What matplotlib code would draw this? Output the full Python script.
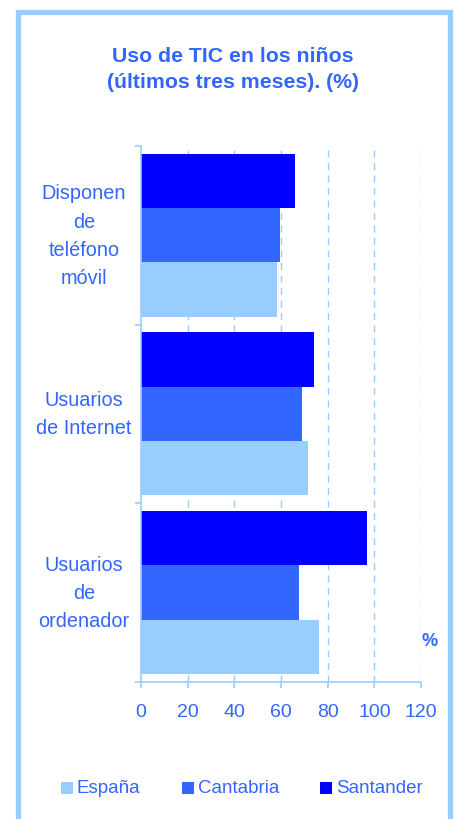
import matplotlib
matplotlib.use("Agg")
import matplotlib.pyplot as plt
from matplotlib.patches import Rectangle
from matplotlib.transforms import blended_transform_factory
import numpy as np

categories = ["Disponen\nde\nteléfono\nmóvil", "Usuarios\nde Internet", "Usuarios\nde\nordenador"]
series_names = ["España", "Cantabria", "Santander"]
espana = [58.1, 71.6, 76.3]
cantabria = [59.6, 69.0, 67.7]
santander = [66.0, 74.1, 96.9]
xticks = [0, 20, 40, 60, 80, 100, 120]

plt.rcParams['font.family'] = ['Liberation Sans', 'DejaVu Sans']
TXT = '#3366FF'
LIGHT = '#99CCFF'
colors = {'España': '#99CCFF', 'Cantabria': '#3366FF', 'Santander': '#0000FF'}

W, H = 455, 820
fig = plt.figure(figsize=(W/100, H/100), dpi=100)
fig.patch.set_facecolor('white')

# frame
fig.add_artist(Rectangle((17.5/W, -0.05), (449.5-17.5)/W, (H-12.5)/H + 0.05,
                         transform=fig.transFigure, fill=False, edgecolor=LIGHT,
                         linewidth=3.8, zorder=0))

ax = fig.add_axes([141/W, 137.3/H, 280/W, 535.7/H])
n = len(categories)
pos = np.arange(n)[::-1].astype(float)  # first category on top
bh = 0.304
vals = {'España': espana, 'Cantabria': cantabria, 'Santander': santander}
offs = {'España': -bh, 'Cantabria': 0.0, 'Santander': bh}
for s in series_names:
    ax.barh(pos + offs[s], vals[s], height=bh, color=colors[s], zorder=2, label=s)

ax.set_xlim(0, 120)
ax.set_ylim(-0.5, n - 0.5)
ax.set_xticks(xticks)
ax.set_xticklabels([str(t) for t in xticks])
ax.set_yticks(np.arange(n + 1) - 0.5)
ax.set_yticklabels([])
for x in xticks[1:]:
    ax.axvline(x, color=LIGHT, linewidth=1, linestyle=(0, (5, 4)), zorder=1)

for sp in ['top', 'right']:
    ax.spines[sp].set_visible(False)
for sp in ['left', 'bottom']:
    ax.spines[sp].set_color(LIGHT)
    ax.spines[sp].set_linewidth(1.2)
ax.tick_params(axis='x', colors=LIGHT, labelcolor=TXT, labelsize=14, length=4.5, width=1.2, pad=11)
ax.tick_params(axis='y', colors=LIGHT, length=4.5, width=1.2)

tr = blended_transform_factory(fig.transFigure, ax.transData)
for p, c in zip(pos, categories):
    ax.text(84/W, p, c, transform=tr, ha='center', va='center', multialignment='center',
            color=TXT, fontsize=14.3, linespacing=1.62)

fig.text(233/W, 1 - 56/H, "Uso de TIC en los niños", ha='center', va='center',
         color=TXT, fontsize=15.3, fontweight='bold')
fig.text(233/W, 1 - 83/H, "(últimos tres meses). (%)", ha='center', va='center',
         color=TXT, fontsize=15.3, fontweight='bold')
fig.text(430/W, 1 - 642/H, "%", ha='center', va='center', color=TXT, fontsize=13, fontweight='bold')

# legend
leg_items = [("España", 61), ("Cantabria", 182), ("Santander", 320)]
for name, x0 in leg_items:
    fig.add_artist(Rectangle((x0/W, 1 - 795/H), 12/W, 12/H, transform=fig.transFigure,
                             facecolor=colors[name], edgecolor='none'))
    fig.text((x0 + 16)/W, 1 - 789/H, name, ha='left', va='center', color=TXT, fontsize=13.5)

fig.savefig("out.png", dpi=100)
